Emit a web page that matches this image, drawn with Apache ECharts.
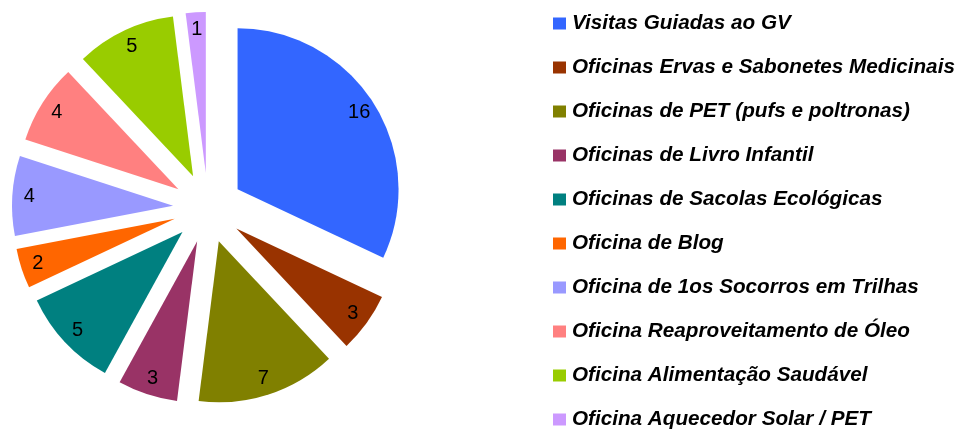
<!DOCTYPE html>
<html><head><meta charset="utf-8">
<script src="https://cdn.jsdelivr.net/npm/echarts@6/dist/echarts.min.js"></script>
<style>html,body{margin:0;padding:0;background:#fff}#c{width:956px;height:432px}</style>
</head><body><div id="c"></div>
<script>
const categories = ["Visitas Guiadas ao GV","Oficinas Ervas e Sabonetes Medicinais","Oficinas de PET (pufs e poltronas)","Oficinas de Livro Infantil","Oficinas de Sacolas Ecológicas","Oficina de Blog","Oficina de 1os Socorros em Trilhas","Oficina Reaproveitamento de Óleo","Oficina Alimentação Saudável","Oficina Aquecedor Solar / PET"];
const values = [16,3,7,3,5,2,4,4,5,1];
const colors = ["#3366FF","#993300","#808000","#993366","#008080","#FF6600","#9999FF","#FF8080","#99CC00","#CC99FF"];

const chart = echarts.init(document.getElementById('c'));
const shapeData = categories.map((n,i)=>({name:n,value:values[i],selected:true,itemStyle:{color:colors[i]}}));
const labelData = categories.map((n,i)=>({name:n+' ',value:values[i],selected:true}));
chart.setOption({
  animation:false,
  legend:{
    orient:'vertical', left:553, top:13, padding:0, icon:'rect', itemWidth:13, itemHeight:12, itemGap:23,
    data:categories, selectedMode:false,
    textStyle:{fontFamily:'Liberation Sans, Arial, sans-serif', fontSize:20.7, fontWeight:'bold', fontStyle:'italic', color:'#000', lineHeight:20, padding:[0,0,0,1]}
  },
  series:[
    {type:'pie', center:[208,208], radius:[0,161], startAngle:90, clockwise:true,
     selectedMode:'multiple', selectedOffset:35, silent:true,
     label:{show:false}, labelLine:{show:false}, data:shapeData},
    {type:'pie', center:[208,208], radius:[0,282], startAngle:90, clockwise:true,
     selectedMode:'multiple', selectedOffset:35, silent:true, legendHoverLink:false,
     itemStyle:{color:'rgba(0,0,0,0)'},
     label:{show:true, position:'inside', formatter:'{c}', color:'#000', fontFamily:'Liberation Sans, Arial, sans-serif', fontSize:20},
     labelLine:{show:false}, data:labelData}
  ]
});
</script></body></html>
